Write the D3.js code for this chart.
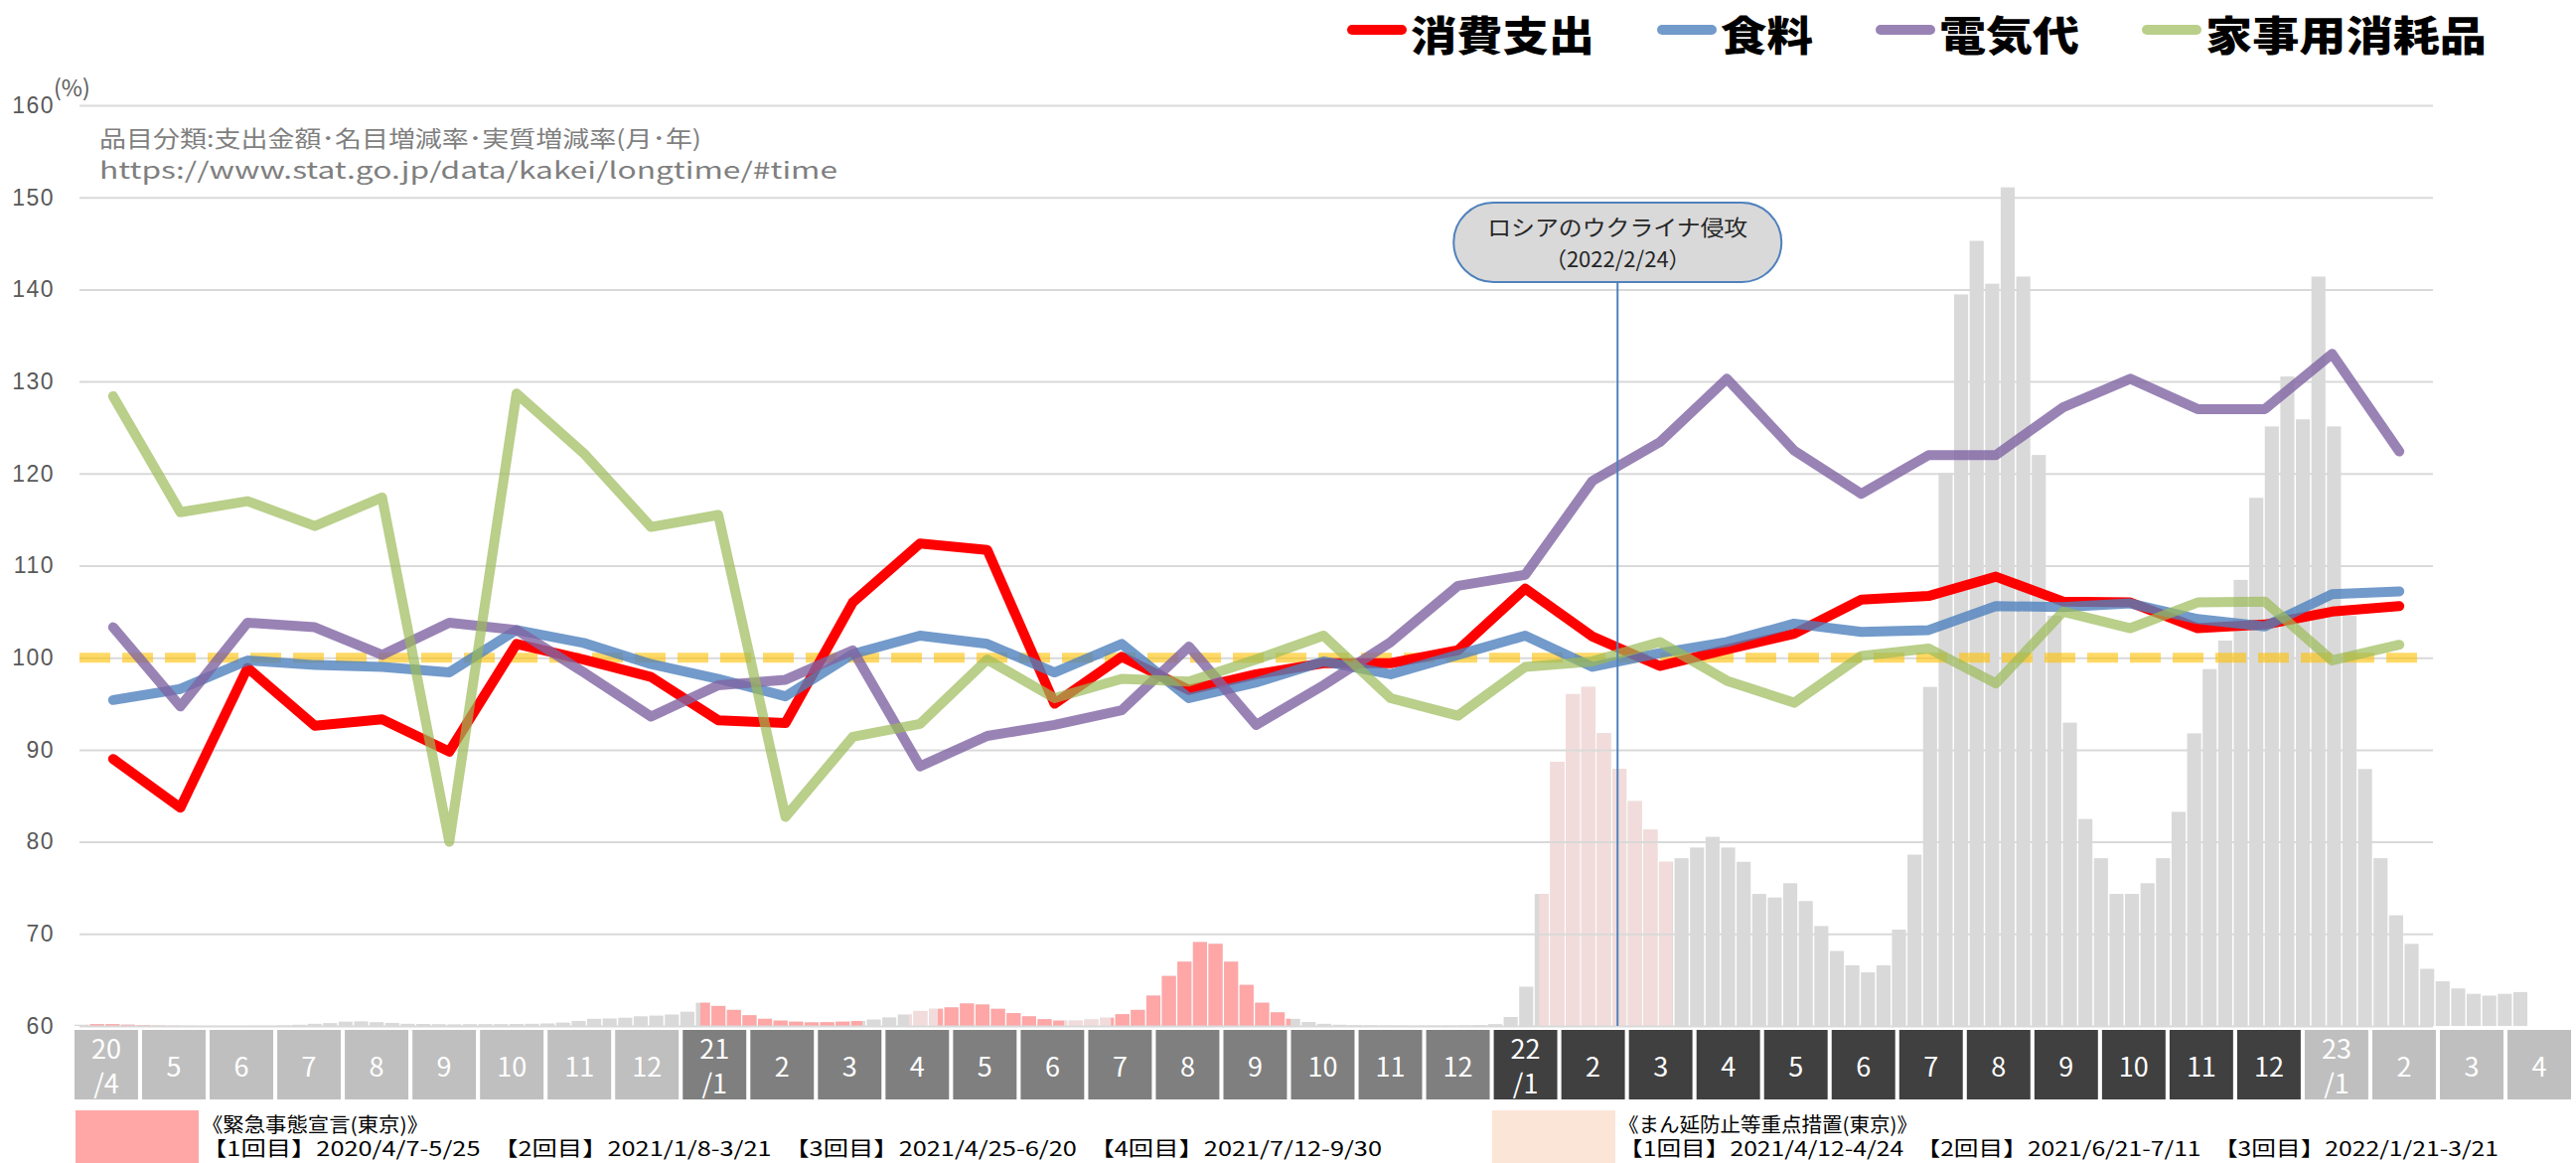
<!DOCTYPE html>
<html lang="ja">
<head>
<meta charset="utf-8">
<title>消費支出・食料・電気代・家事用消耗品</title>
<script src="https://cdn.jsdelivr.net/npm/d3@7"></script>
<style>
  html, body { margin: 0; padding: 0; background: #fff; }
  svg { display: block; font-family: "Noto Sans CJK JP", "Noto Sans", sans-serif; }
</style>
</head>
<body>
<div id="chart"></div>
<script>
// Month boxes along the bottom (2020/4 .. 2023/4)
const MONTHS = [
  "2020/4","2020/5","2020/6","2020/7","2020/8","2020/9","2020/10","2020/11","2020/12",
  "2021/1","2021/2","2021/3","2021/4","2021/5","2021/6","2021/7","2021/8","2021/9","2021/10","2021/11","2021/12",
  "2022/1","2022/2","2022/3","2022/4","2022/5","2022/6","2022/7","2022/8","2022/9","2022/10","2022/11","2022/12",
  "2023/1","2023/2","2023/3","2023/4"
];
// Line series run 2020/4 .. 2023/2
const LINE_MONTHS = MONTHS.slice(0, 35);

const Y_TICKS = [60, 70, 80, 90, 100, 110, 120, 130, 140, 150, 160];

// 前年同月比 (%)
const consumption = [89.0, 83.7, 98.9, 92.6, 93.3, 89.8, 101.5, 99.8, 97.9, 93.2, 92.9, 106.0,
  112.4, 111.7, 95.0, 100.1, 96.5, 98.2, 99.4, 99.4, 100.8, 107.5, 102.3, 99.1,
  100.9, 102.6, 106.3, 106.7, 108.8, 106.1, 106.0, 103.2, 103.6, 105.0, 105.6];
const food = [95.4, 96.6, 99.7, 99.2, 99.0, 98.4, 103.0, 101.6, 99.3, 97.7, 95.8, 100.4,
  102.4, 101.5, 98.4, 101.5, 95.6, 97.3, 99.6, 98.2, 100.3, 102.4, 99.0, 100.5,
  101.7, 103.7, 102.8, 103.0, 105.6, 105.5, 105.9, 104.2, 103.4, 106.9, 107.2];
const electricity = [103.3, 94.7, 103.8, 103.3, 100.3, 103.8, 103.0, 98.4, 93.6, 97.0, 97.6, 100.8,
  88.2, 91.5, 92.7, 94.3, 101.2, 92.7, 97.0, 101.7, 107.8, 109.0, 119.2, 123.4,
  130.3, 122.5, 117.8, 122.0, 122.0, 127.2, 130.3, 127.0, 127.0, 133.0, 122.4];
const household = [128.4, 115.8, 117.0, 114.3, 117.4, 80.0, 128.7, 122.2, 114.2, 115.5, 82.7, 91.4,
  92.8, 99.8, 95.6, 97.7, 97.4, 99.8, 102.4, 95.6, 93.7, 99.0, 99.6, 101.7,
  97.5, 95.1, 100.2, 101.0, 97.2, 105.0, 103.2, 106.0, 106.1, 99.7, 101.4];

// Background: new COVID-19 cases (thousand / day), one value per week from 2020-04-01
const CASE_START = "2020-04-01";
const CASES_K = [
  0.35, 0.5, 0.5, 0.35, 0.2, 0.1, 0.05, 0.03, 0.04, 0.04,
  0.05, 0.06, 0.09, 0.18, 0.33, 0.6, 0.8, 1.2, 1.3, 1.05,
  0.85, 0.6, 0.55, 0.5, 0.45, 0.5, 0.5, 0.52, 0.55, 0.6,
  0.7, 0.95, 1.4, 2.0, 2.1, 2.3, 2.7, 2.9, 3.2, 4.0,
  6.5, 5.6, 4.5, 3.0, 2.0, 1.5, 1.2, 1.0, 1.05, 1.2,
  1.4, 1.8, 2.4, 3.2, 4.2, 4.8, 5.2, 6.3, 6.0, 4.8,
  3.6, 2.7, 1.9, 1.5, 1.5, 1.8, 2.3, 3.3, 4.5, 8.5,
  14.0, 18.0, 23.5, 23.0, 18.0, 11.5, 6.5, 3.8, 2.0, 1.1,
  0.6, 0.35, 0.25, 0.2, 0.17, 0.14, 0.12, 0.12, 0.14, 0.18,
  0.25, 0.5, 2.5, 11, 37, 74, 93, 95, 82, 72,
  63, 55, 46, 47, 50, 53, 50, 46, 37, 36,
  40, 35, 28, 21, 17, 15, 17, 27, 48, 95,
  155, 205, 220, 208, 235, 210, 160, 115, 85, 58,
  47, 37, 37, 40, 47, 60, 82, 100, 108, 125,
  148, 168, 182, 170, 210, 168, 115, 72, 47, 31,
  23, 16, 12.5, 10.5, 9, 8.5, 9, 9.5
];

const EMERGENCY = [["2020-04-07","2020-05-25"], ["2021-01-08","2021-03-21"],
                   ["2021-04-25","2021-06-20"], ["2021-07-12","2021-09-30"]];
const PRIORITY  = [["2021-04-12","2021-04-24"], ["2021-06-21","2021-07-11"], ["2022-01-21","2022-03-21"]];
const INVASION_DATE = "2022-02-24";

const SERIES = [
  { name: "消費支出",     values: consumption, color: "#ff0000", opacity: 1 },
  { name: "食料",         values: food,        color: "#4f81bd", opacity: 0.8 },
  { name: "電気代",       values: electricity, color: "#8064a2", opacity: 0.8 },
  { name: "家事用消耗品", values: household,   color: "#9bbb59", opacity: 0.7 },
];

const NOTE = ["品目分類:支出金額･名目増減率･実質増減率(月･年)", "https://www.stat.go.jp/data/kakei/longtime/#time"];
const CALLOUT = ["ロシアのウクライナ侵攻", "（2022/2/24）"];
const LEGEND_EM = ["《緊急事態宣言(東京)》",
  "【1回目】2020/4/7-5/25　【2回目】2021/1/8-3/21　【3回目】2021/4/25-6/20　【4回目】2021/7/12-9/30"];
const LEGEND_PR = ["《まん延防止等重点措置(東京)》",
  "【1回目】2021/4/12-4/24　【2回目】2021/6/21-7/11　【3回目】2022/1/21-3/21"];

// ---------------------------------------------------------------------------
const W = 2593, H = 1171;
const PLOT = { left: 80, right: 2449, top: 106, bottom: 1033 };
const BOX = { left: 75, right: 2588, top: 1037, height: 70 };
const YEAR_FILL = { "2020": "#bfbfbf", "2021": "#7f7f7f", "2022": "#404040", "2023": "#bfbfbf" };
const LEGEND_W = [185, 93, 141, 283];   // label widths in the top legend

const parse = d3.timeParse("%Y-%m-%d");

const svg = d3.select("#chart").append("svg")
  .attr("viewBox", `0 0 ${W} ${H}`).attr("width", W).attr("height", H);
const defs = svg.append("defs");

const y = d3.scaleLinear().domain([60, 160]).range([PLOT.bottom, PLOT.top]);
const x = d3.scalePoint().domain(LINE_MONTHS).range([PLOT.left, PLOT.right]).padding(0.5);
const xBox = d3.scaleBand().domain(MONTHS).range([BOX.left, BOX.right]).paddingInner(0.06);
const xTime = d3.scaleTime().domain([parse("2020-04-01"), parse("2023-05-01")]).range([BOX.left, BOX.right]);
const yCase = d3.scaleLinear().domain([0, 258]).range([PLOT.bottom, PLOT.top]);

// Case bars (gray, recoloured inside the declaration periods via clip paths)
function periodClip(id, periods) {
  const cp = defs.append("clipPath").attr("id", id);
  periods.forEach(([a, b]) => {
    const x0 = xTime(parse(a)), x1 = xTime(d3.timeDay.offset(parse(b), 1));
    cp.append("rect").attr("x", x0).attr("y", 0).attr("width", x1 - x0).attr("height", H);
  });
}
periodClip("clip-em", EMERGENCY);
periodClip("clip-pr", PRIORITY);

const start = parse(CASE_START);
const weeks = CASES_K.map((v, i) => ({
  t0: d3.timeDay.offset(start, 7 * i), t1: d3.timeDay.offset(start, 7 * i + 7), v
}));

const barsLayer = svg.append("g");
function bars(color, clip) {
  const g = barsLayer.append("g");
  if (clip) g.attr("clip-path", `url(#${clip})`);
  g.selectAll("rect").data(weeks).join("rect")
    .attr("x", d => xTime(d.t0))
    .attr("width", d => Math.max(0.5, xTime(d.t1) - xTime(d.t0) - 1.5))
    .attr("y", d => yCase(d.v))
    .attr("height", d => yCase(0) - yCase(d.v))
    .attr("fill", color);
}
bars("#d9d9d9");
bars("#ffa6a6", "clip-em");
bars("#f2dcdb", "clip-pr");

// Grid
const grid = svg.append("g").attr("transform", `translate(${PLOT.left},0)`)
  .call(d3.axisLeft(y).tickValues(Y_TICKS).tickSize(-(PLOT.right - PLOT.left)).tickFormat(""));
grid.select(".domain").remove();
grid.selectAll("line").attr("stroke", "#d9d9d9").attr("stroke-width", 2);

// Y labels
const yAx = svg.append("g").attr("transform", `translate(${PLOT.left},0)`)
  .call(d3.axisLeft(y).tickValues(Y_TICKS).tickSize(0).tickPadding(25));
yAx.select(".domain").remove();
yAx.selectAll("text")
  .attr("font-family", "'Liberation Sans', Arial, sans-serif")
  .attr("font-size", 23).attr("fill", "#595959").attr("letter-spacing", "1.5px");
svg.append("text").attr("x", 54).attr("y", 89).attr("dy", "0.35em")
  .attr("font-size", 23).attr("fill", "#595959").text("(%)");

// 100% reference
svg.append("line")
  .attr("x1", PLOT.left).attr("x2", PLOT.right - 8)
  .attr("y1", y(100)).attr("y2", y(100))
  .attr("stroke", "#ffc000").attr("stroke-opacity", 0.6)
  .attr("stroke-width", 10).attr("stroke-dasharray", "31 12");

// Lines
const line = d3.line().x((d, i) => x(LINE_MONTHS[i])).y(d => y(d));
SERIES.forEach(s => {
  svg.append("path").attr("d", line(s.values))
    .attr("fill", "none").attr("stroke", s.color).attr("stroke-opacity", s.opacity)
    .attr("stroke-width", 10).attr("stroke-linejoin", "round").attr("stroke-linecap", "round");
});

// Callout
const xInv = xTime(parse(INVASION_DATE)) + 3;
svg.append("line").attr("x1", xInv).attr("x2", xInv).attr("y1", 284).attr("y2", PLOT.bottom)
  .attr("stroke", "#4f81bd").attr("stroke-width", 2);
svg.append("rect").attr("x", xInv - 165).attr("y", 204).attr("width", 330).attr("height", 80)
  .attr("rx", 40).attr("fill", "#d9d9d9").attr("stroke", "#4f81bd").attr("stroke-width", 2);
CALLOUT.forEach((t, i) => {
  svg.append("text").attr("x", xInv).attr("y", 229 + i * 32).attr("dy", "0.35em")
    .attr("text-anchor", "middle").attr("font-size", 22).attr("fill", "#262626")
    .attr("textLength", i === 0 ? 262 : null).attr("lengthAdjust", "spacingAndGlyphs").text(t);
});

// Month boxes
const boxes = svg.append("g");
boxes.selectAll("rect").data(MONTHS).join("rect")
  .attr("x", d => xBox(d)).attr("y", BOX.top)
  .attr("width", xBox.bandwidth()).attr("height", BOX.height)
  .attr("fill", d => YEAR_FILL[d.split("/")[0]]);
MONTHS.forEach((d, i) => {
  const [yr, m] = d.split("/");
  const cx = xBox(d) + xBox.bandwidth() / 2;
  const lines = (i === 0 || m === "1") ? [yr.slice(2), "/" + m] : [m];
  lines.forEach((t, j) => {
    const cy = lines.length === 1 ? BOX.top + 38 : BOX.top + 20 + j * 35;
    boxes.append("text").attr("x", cx).attr("y", cy).attr("dy", "0.35em")
      .attr("text-anchor", "middle").attr("font-size", 27).attr("fill", "#fff").text(t);
  });
});

// Top legend
let lx = 1356;
SERIES.forEach((s, i) => {
  svg.append("line").attr("x1", lx + 5).attr("x2", lx + 55).attr("y1", 30).attr("y2", 30)
    .attr("stroke", s.color).attr("stroke-opacity", s.opacity)
    .attr("stroke-width", 10).attr("stroke-linecap", "round");
  svg.append("text").attr("x", lx + 64).attr("y", 51)
    .attr("font-size", 41).attr("font-weight", 900).attr("fill", "#000")
    .attr("textLength", LEGEND_W[i]).attr("lengthAdjust", "spacingAndGlyphs").text(s.name);
  lx += 64 + LEGEND_W[i] + 63;
});

// Source note
svg.selectAll(".note").data(NOTE).join("text").attr("class", "note")
  .attr("x", 100).attr("y", (d, i) => 140 + i * 32).attr("dy", "0.35em")
  .attr("font-size", 23).attr("fill", "#7f7f7f")
  .attr("textLength", (d, i) => [606, 743][i]).attr("lengthAdjust", "spacingAndGlyphs")
  .text(d => d);

// Bottom legends
function periodLegend(x0, swatch, texts, widths) {
  svg.append("rect").attr("x", x0).attr("y", 1118).attr("width", 124).attr("height", 60).attr("fill", swatch);
  texts.forEach((t, i) => {
    svg.append("text").attr("x", x0 + 127).attr("y", 1133 + i * 24).attr("dy", "0.35em")
      .attr("font-size", 20).attr("fill", "#000")
      .attr("textLength", widths[i]).attr("lengthAdjust", "spacingAndGlyphs").text(t);
  });
}
periodLegend(76, "#ffa7a7", LEGEND_EM, [228, 1188]);
periodLegend(1502, "#fbe5d6", LEGEND_PR, [301, 886]);
</script>
</body>
</html>
